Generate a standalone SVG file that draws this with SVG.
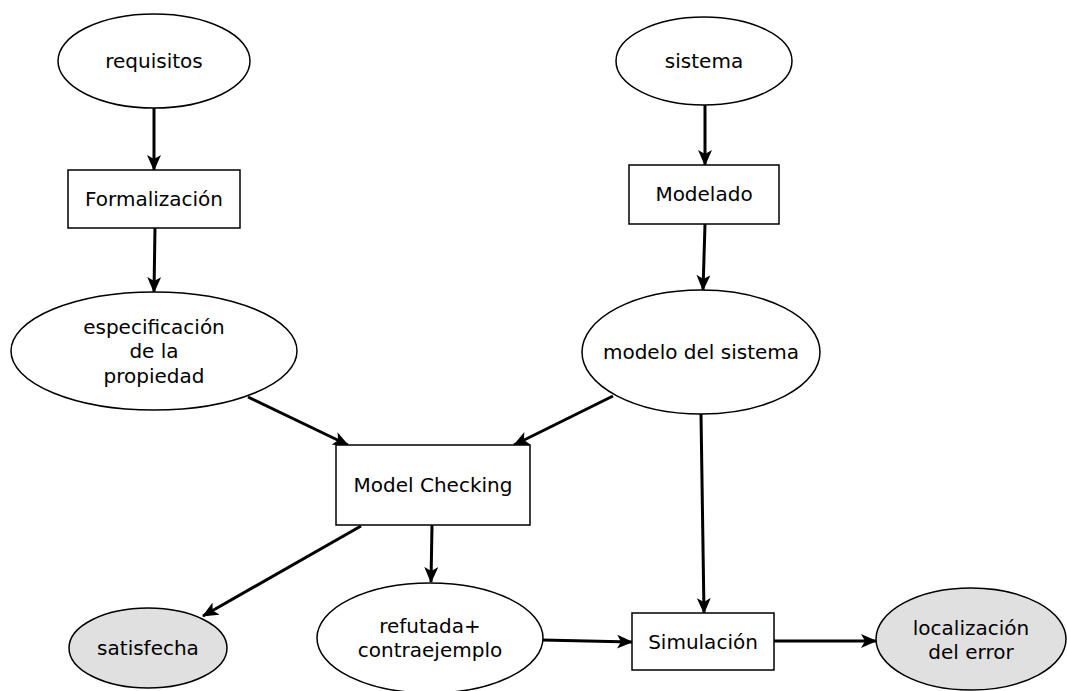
<svg xmlns="http://www.w3.org/2000/svg" width="1067" height="691" viewBox="0 0 1067 691">
<style>
.n{fill:#fff;stroke:#000;stroke-width:1.5}
.g{fill:#e0e0e0;stroke:#000;stroke-width:1.5}
.t{font-family:"DejaVu Sans",sans-serif;font-size:20px;fill:#000;text-anchor:middle}
.c{stroke:#000;stroke-width:3;fill:none;marker-end:url(#a)}
</style>
<defs>
<marker id="a" markerUnits="userSpaceOnUse" markerWidth="16" markerHeight="14" refX="15" refY="7" orient="auto">
<path d="M0,0 L16,7 L0,14 L4,7 z" fill="#000"/>
</marker>
</defs>
<g id="connectors">
<line class="c" x1="154" y1="108" x2="154" y2="170"/>
<line class="c" x1="155" y1="228" x2="154" y2="292"/>
<line class="c" x1="705" y1="105" x2="705" y2="165"/>
<line class="c" x1="705" y1="224" x2="703" y2="290"/>
<line class="c" x1="248" y1="397" x2="348" y2="445"/>
<line class="c" x1="613" y1="396" x2="514" y2="445"/>
<line class="c" x1="701" y1="414" x2="704" y2="613"/>
<line class="c" x1="361" y1="526" x2="203" y2="616"/>
<line class="c" x1="432" y1="525" x2="431" y2="582"/>
<line class="c" x1="542" y1="640" x2="632" y2="642"/>
<line class="c" x1="774" y1="641" x2="876" y2="641"/>
</g>
<g id="requisitos"><ellipse class="n" cx="154" cy="61" rx="96" ry="47"/><text class="t" x="154" y="68">requisitos</text></g>
<g id="sistema"><ellipse class="n" cx="704" cy="61" rx="88" ry="44"/><text class="t" x="704" y="68">sistema</text></g>
<g id="formalizacion"><rect class="n" x="68" y="170" width="172" height="58"/><text class="t" x="154" y="206">Formalización</text></g>
<g id="modelado"><rect class="n" x="629" y="165" width="150" height="59"/><text class="t" x="704" y="201">Modelado</text></g>
<g id="especificacion"><ellipse class="n" cx="154" cy="351" rx="143" ry="59"/><text class="t" x="154" y="334">especificación</text><text class="t" x="154" y="358">de la</text><text class="t" x="154" y="383">propiedad</text></g>
<g id="modelo"><ellipse class="n" cx="701" cy="352" rx="119" ry="62"/><text class="t" x="701" y="359">modelo del sistema</text></g>
<g id="modelchecking"><rect class="n" x="336" y="445" width="194" height="80"/><text class="t" x="433" y="492">Model Checking</text></g>
<g id="satisfecha"><ellipse class="g" cx="148" cy="648" rx="79" ry="40"/><text class="t" x="148" y="655">satisfecha</text></g>
<g id="refutada"><ellipse class="n" cx="430" cy="638" rx="113" ry="55"/><text class="t" x="430" y="633">refutada+</text><text class="t" x="430" y="657">contraejemplo</text></g>
<g id="simulacion"><rect class="n" x="632" y="613" width="142" height="57"/><text class="t" x="703" y="649">Simulación</text></g>
<g id="localizacion"><ellipse class="g" cx="971" cy="639" rx="95" ry="51"/><text class="t" x="971" y="635">localización</text><text class="t" x="971" y="659">del error</text></g>
</svg>
